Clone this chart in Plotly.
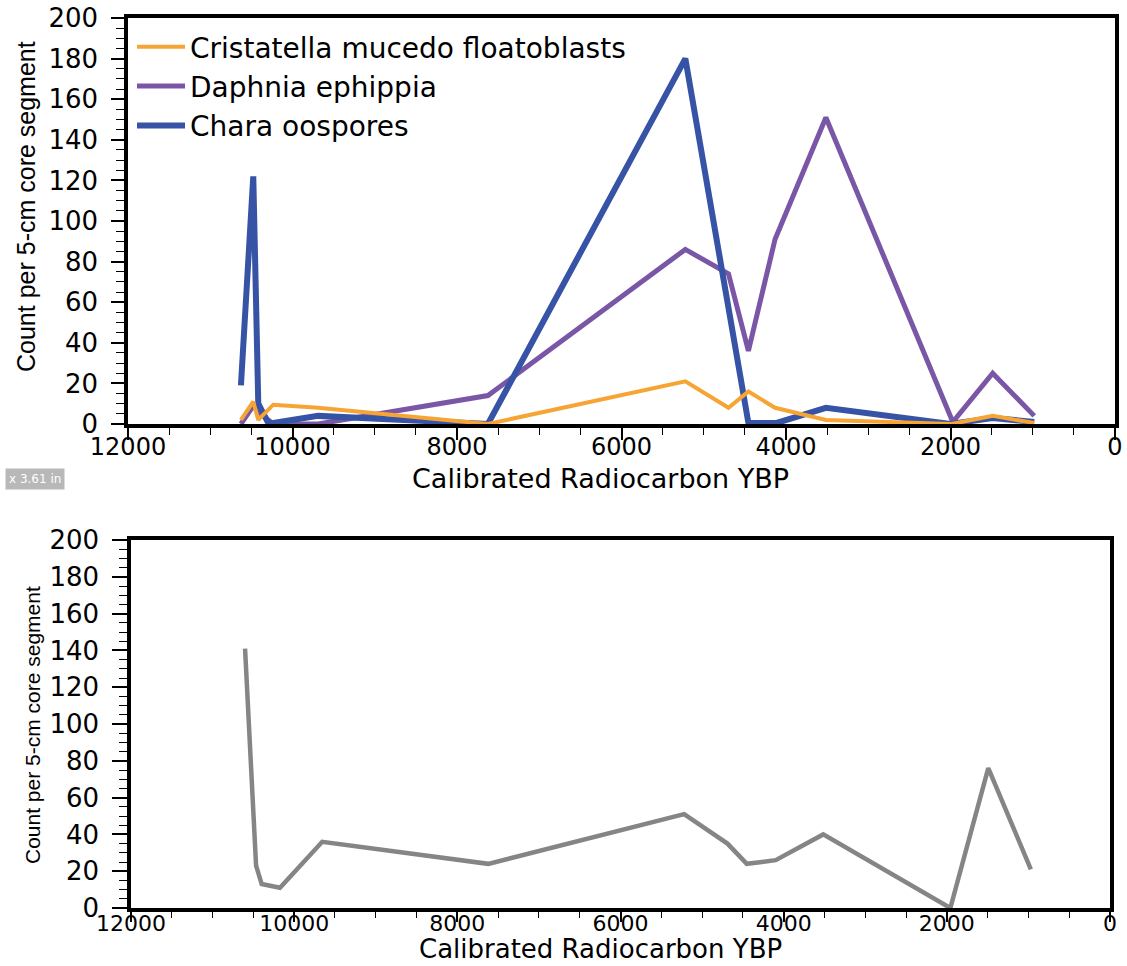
import plotly.graph_objects as go

# ---------------- data ----------------
# Top panel
cristatella_years = [10627, 10477, 10416, 10234, 9689, 7624, 5224, 4699, 4457, 4133, 3515, 1990, 1487, 982]
cristatella_counts = [2, 11, 2, 9.5, 8, 0, 21, 8, 16, 8, 2, 0, 4, 0.5]

daphnia_years = [10627, 10477, 10416, 10234, 9689, 7624, 5224, 4699, 4457, 4133, 3515, 1972, 1487, 982]
daphnia_counts = [0, 9, 6, 0, 0, 14, 86, 74, 36, 91, 151, 1, 25, 4]

chara_years = [10627, 10477, 10416, 10295, 10234, 9689, 7624, 5224, 4457, 4113, 3515, 2000, 1487, 982]
chara_counts = [19, 122, 10, 0.5, 0.5, 4, 0, 180, 0.5, 0.5, 8, 0, 3, 1]

# Bottom panel
total_years = [10602, 10467, 10398, 10174, 9656, 7620, 5220, 4689, 4452, 4098, 3515, 1957, 1492, 970]
total_counts = [141, 23, 13, 11, 36, 24, 51, 35, 24, 26, 40, 0, 76, 21]

x_tick_vals = [12000, 10000, 8000, 6000, 4000, 2000, 0]
x_tick_text = ["12000", "10000", "8000", "6000", "4000", "2000", "0"]
y_tick_vals = [0, 20, 40, 60, 80, 100, 120, 140, 160, 180, 200]
y_tick_text = ["0", "20", "40", "60", "80", "100", "120", "140", "160", "180", "200"]

x_title = "Calibrated Radiocarbon YBP"
y_title = "Count per 5-cm core segment"

ORANGE = "#F6A434"
PURPLE = "#7A57A6"
BLUE = "#3653A5"
GRAY = "#858585"

W, H = 1127, 966
Y_TICK_FONT = dict(family="DejaVu Sans", size=26, color="black")

fig = go.Figure()

fig.add_trace(go.Scatter(x=daphnia_years, y=daphnia_counts, mode="lines",
                         name="Daphnia ephippia", legendrank=2,
                         line=dict(color=PURPLE, width=5), xaxis="x", yaxis="y"))
fig.add_trace(go.Scatter(x=chara_years, y=chara_counts, mode="lines",
                         name="Chara oospores", legendrank=3,
                         line=dict(color=BLUE, width=6), xaxis="x", yaxis="y"))
fig.add_trace(go.Scatter(x=cristatella_years, y=cristatella_counts, mode="lines",
                         name="Cristatella mucedo floatoblasts", legendrank=1,
                         line=dict(color=ORANGE, width=4), xaxis="x", yaxis="y"))
fig.add_trace(go.Scatter(x=total_years, y=total_counts, mode="lines",
                         showlegend=False,
                         line=dict(color=GRAY, width=4.5), xaxis="x2", yaxis="y2"))


def xax(domain, anchor, ticklen, minorlen, fontsize, standoff):
    return dict(domain=domain, anchor=anchor, range=[12000, 0], automargin=False,
                tickmode="array", tickvals=x_tick_vals, ticktext=x_tick_text,
                ticks="outside", ticklen=ticklen, tickwidth=1.5, tickcolor="black",
                minor=dict(tick0=0, dtick=500, ticks="outside", ticklen=minorlen,
                           tickwidth=1.2, tickcolor="black"),
                showline=True, linecolor="black", linewidth=3.5, mirror=True,
                showgrid=False, zeroline=False,
                tickfont=dict(family="DejaVu Sans", size=fontsize, color="black"),
                ticklabelstandoff=standoff)


def yax(domain, anchor, ticklen):
    return dict(domain=domain, anchor=anchor, range=[0, 200], automargin=False,
                tickmode="array", tickvals=y_tick_vals, ticktext=y_tick_text,
                ticks="outside", ticklen=ticklen, tickwidth=1.5, tickcolor="black",
                minor=dict(tick0=0, dtick=5, ticks="outside", ticklen=8,
                           tickwidth=1.2, tickcolor="black"),
                showline=True, linecolor="black", linewidth=3.5, mirror=True,
                showgrid=False, zeroline=False, tickfont=Y_TICK_FONT,
                ticklabelstandoff=8)


fig.update_layout(
    width=W, height=H,
    margin=dict(l=0, r=0, t=0, b=0, autoexpand=False),
    paper_bgcolor="white", plot_bgcolor="white",
    font=dict(family="DejaVu Sans", color="black"),
    xaxis=xax([128 / W, 1115 / W], "y", 12, 7, 24, -14),
    yaxis=yax([1 - 424 / H, 1 - 18 / H], "x", 13),
    xaxis2=xax([131 / W, 1110 / W], "y2", 10, 6, 22, -17),
    yaxis2=yax([1 - 908 / H, 1 - 540 / H], "x2", 15),
    showlegend=True,
    legend=dict(x=132 / W, y=1 - 22 / H, xanchor="left", yanchor="top",
                bgcolor="rgba(0,0,0,0)", borderwidth=0,
                font=dict(family="DejaVu Sans", size=28, color="black"),
                traceorder="normal", itemwidth=48, tracegroupgap=0),
    annotations=[
        dict(text=x_title, xref="paper", yref="paper", x=600 / W, y=1 - 479 / H,
             showarrow=False, xanchor="center", yanchor="middle",
             font=dict(family="DejaVu Sans", size=27, color="black")),
        dict(text=x_title, xref="paper", yref="paper", x=600 / W, y=0,
             showarrow=False, xanchor="center", yanchor="bottom",
             font=dict(family="DejaVu Sans", size=26, color="black")),
        dict(text=y_title, xref="paper", yref="paper", x=26 / W, y=1 - 207 / H,
             showarrow=False, textangle=-90, xanchor="center", yanchor="middle",
             font=dict(family="Liberation Sans", size=25, color="black")),
        dict(text=y_title, xref="paper", yref="paper", x=32 / W, y=1 - 725 / H,
             showarrow=False, textangle=-90, xanchor="center", yanchor="middle",
             font=dict(family="Liberation Sans", size=21, color="black")),
        dict(text="x 3.61 in", xref="paper", yref="paper", x=5 / W, y=1 - 479 / H,
             showarrow=False, xanchor="left", yanchor="middle",
             bgcolor="#b8b8b8", borderpad=3,
             font=dict(family="DejaVu Sans", size=12, color="white")),
    ],
)

fig.write_html("out.html")
